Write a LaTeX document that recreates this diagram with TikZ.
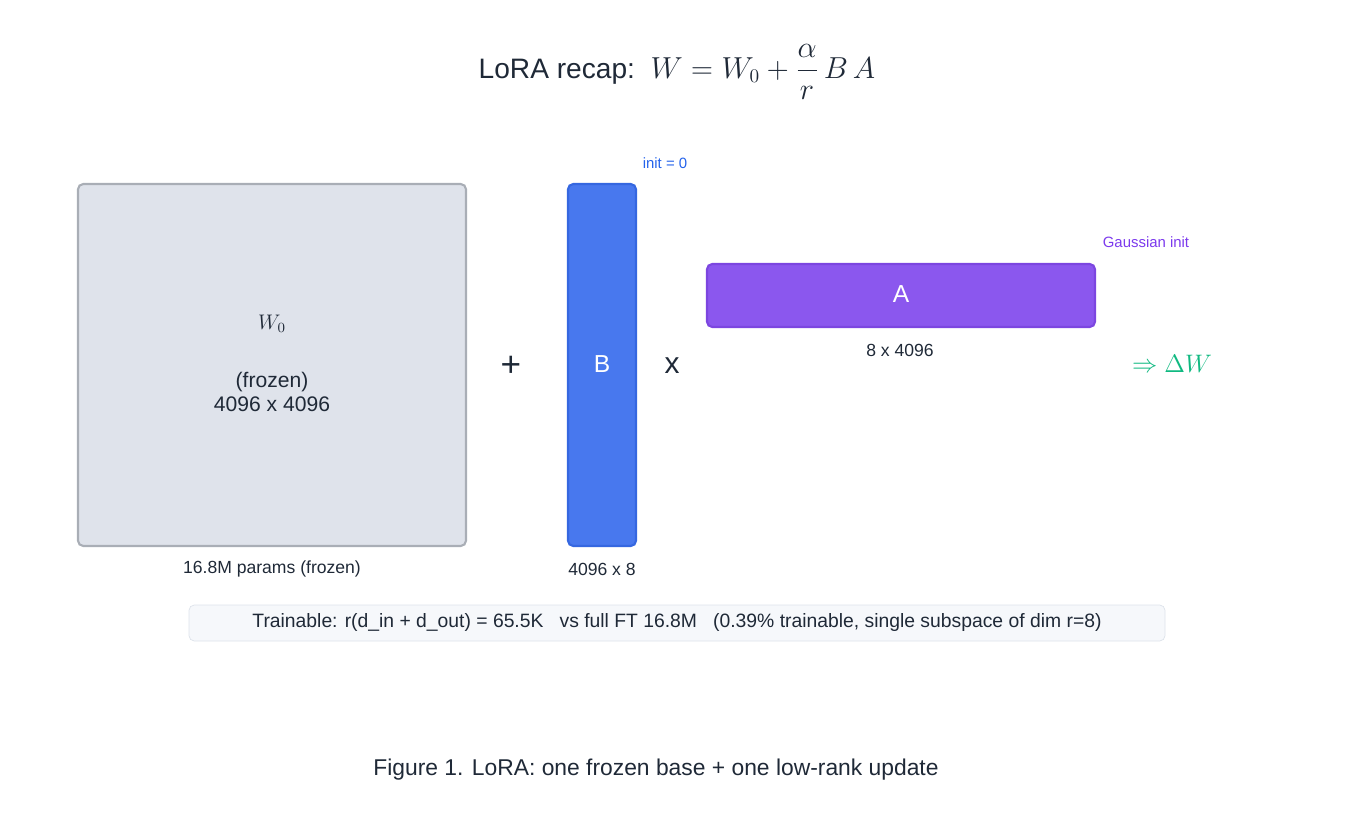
\documentclass[tikz,border=0pt]{standalone}
\usepackage{amsmath}
\usepackage{fontspec}
\setmainfont{Liberation Sans}
\usepackage{tikz}
\definecolor{ink}{HTML}{1F2937}
\definecolor{frozenfill}{HTML}{DFE3EB}
\definecolor{frozenline}{HTML}{A9AEB6}
\definecolor{bfill}{HTML}{4878EE}
\definecolor{bline}{HTML}{3567E0}
\definecolor{afill}{HTML}{8B57EE}
\definecolor{aline}{HTML}{7C46E0}
\definecolor{initblue}{HTML}{2563EB}
\definecolor{initpurple}{HTML}{7C3AED}
\definecolor{deltagreen}{HTML}{10B981}
\definecolor{notefill}{HTML}{F6F8FB}
\definecolor{noteline}{HTML}{DDE2EA}
\tikzset{
  mat/.style={rounded corners=3pt, line width=1.2pt},
  lbl/.style={text=ink, font=\fontsize{10}{12}\selectfont},
  tiny/.style={font=\fontsize{8.5}{10}\selectfont},
}
\begin{document}
\begin{tikzpicture}[x=0.02cm, y=-0.02cm]
        \useasboundingbox (0,0) rectangle (1353,821);

        \node(title) at (677,72) [text=ink, font=\fontsize{16}{19}\selectfont] {LoRA recap:\ \ $W = W_0 + \dfrac{\alpha}{r}\,B\,A$};

        % frozen base
        \draw[mat, fill=frozenfill, draw=frozenline] (78,184) rectangle (466,546);
        \node(w0) at (272,324) [lbl, font=\fontsize{12}{14}\selectfont] {$W_0$};
        \node(w0txt) at (272,392) [lbl, align=center, font=\fontsize{12}{14}\selectfont] {(frozen)\\4096 x 4096};
        \node(w0dim) at (272,569) [lbl] {16.8M params (frozen)};

        \node(plus) at (511,366) [text=ink, font=\fontsize{20}{24}\selectfont] {+};

        % B
        \draw[mat, fill=bfill, draw=bline] (568,184) rectangle (636,546);
        \node(b) at (602,364) [text=white, font=\fontsize{14}{16}\selectfont] {B};
        \node(binit) at (665,163) [text=initblue, tiny] {init = 0};
        \node(bdim) at (602,569) [lbl] {4096 x 8};

        \node(times) at (672,366) [text=ink, font=\fontsize{17}{20}\selectfont] {x};

        % A
        \draw[mat, fill=afill, draw=aline] (707,264) rectangle (1095,327);
        \node(a) at (901,294) [text=white, font=\fontsize{14}{16}\selectfont] {A};
        \node(ainit) at (1146,242) [text=initpurple, tiny] {Gaussian init};
        \node(adim) at (900,350) [lbl] {8 x 4096};

        \node(dw) at (1172,364) [text=deltagreen, font=\fontsize{15}{18}\selectfont] {$\Rightarrow \Delta W$};

        \draw[rounded corners=3pt, fill=notefill, draw=noteline] (189,605) rectangle (1165,641);
        \node(note) at (677,622) [lbl, font=\fontsize{11}{13}\selectfont] {Trainable: r(d\_in + d\_out) = 65.5K\ \ \ vs full FT 16.8M\ \ \ (0.39\% trainable, single subspace of dim r=8)};

        \node(caption) at (656,770) [lbl, font=\fontsize{13}{15}\selectfont] {Figure 1. LoRA: one frozen base + one low-rank update};
\end{tikzpicture}
\end{document}
